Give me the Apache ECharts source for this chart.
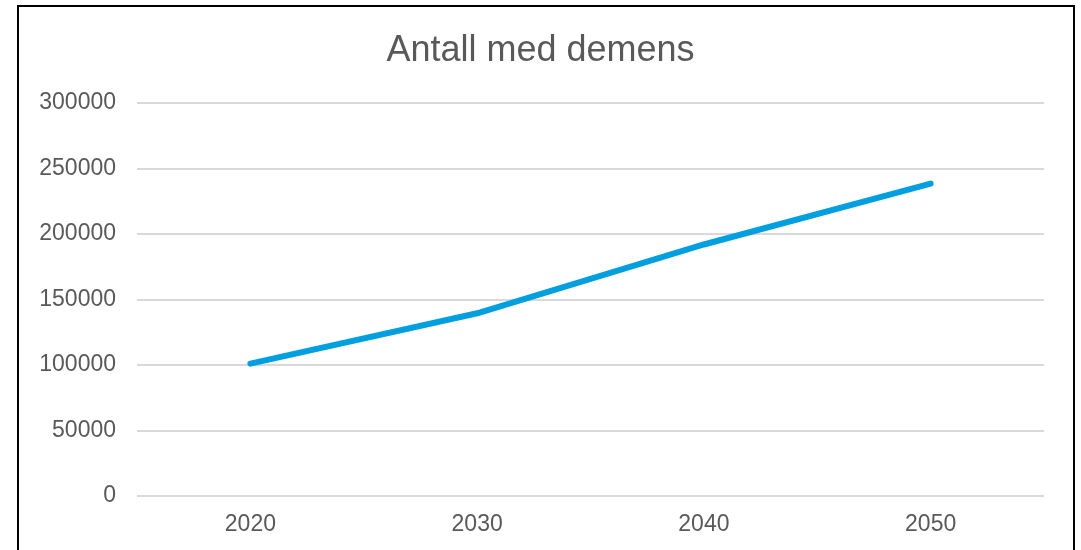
<!DOCTYPE html>
<html>
<head>
<meta charset="utf-8">
<script src="https://cdn.jsdelivr.net/npm/echarts@6/dist/echarts.min.js"></script>
<style>
  html, body { margin: 0; padding: 0; background: #fff; overflow: hidden; }
  #chart { width: 1081px; height: 550px; }
  .frame {
    position: absolute; left: 17px; top: 5px; width: 1054px; height: 560px;
    border: 2px solid #000; pointer-events: none;
  }
</style>
</head>
<body>
<div id="chart"></div>
<div class="frame"></div>
<script>
// data
const years = ['2020', '2030', '2040', '2050'];
const antall = [101000, 139500, 192000, 238500];
const yTicks = [0, 50000, 100000, 150000, 200000, 250000, 300000];

const chart = echarts.init(document.getElementById('chart'));

const option = {
  animation: false,
  textStyle: { fontFamily: 'Liberation Sans, Arial, sans-serif' },
  title: {
    text: 'Antall med demens',
    left: 'center',
    top: 28,
    textStyle: { color: '#595959', fontSize: 36, fontWeight: 'normal', fontFamily: 'Liberation Sans, Arial, sans-serif' }
  },
  grid: { left: 137, right: 37, top: 103, bottom: 54, containLabel: false },
  xAxis: {
    type: 'category',
    data: years,
    boundaryGap: true,
    axisLine: { show: false },
    axisTick: { show: false },
    axisLabel: { color: '#595959', fontSize: 23, margin: 17 }
  },
  yAxis: {
    type: 'value',
    min: yTicks[0],
    max: yTicks[yTicks.length - 1],
    interval: 50000,
    axisLine: { show: false },
    axisTick: { show: false },
    axisLabel: { color: '#595959', fontSize: 23, margin: 21, formatter: v => String(v) },
    splitLine: { lineStyle: { color: '#d9d9d9', width: 2 } }
  },
  series: [
    {
      name: 'Antall med demens',
      type: 'line',
      data: antall,
      symbol: 'none',
      lineStyle: { color: '#009fe0', width: 6, cap: 'round', join: 'round' }
    }
  ]
};

chart.setOption(option);
</script>
</body>
</html>
